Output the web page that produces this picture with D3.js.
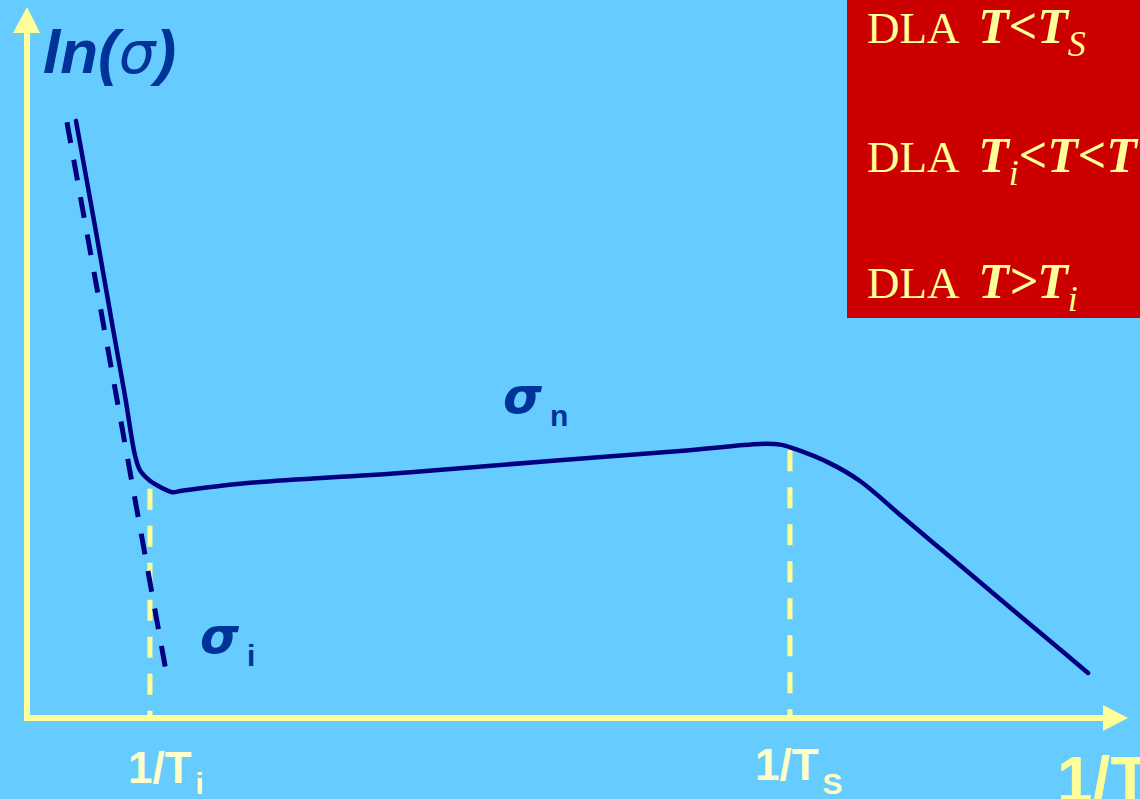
<!DOCTYPE html>
<html>
<head>
<meta charset="utf-8">
<script src="https://cdn.jsdelivr.net/npm/d3@7"></script>
<style>
  html, body { margin: 0; padding: 0; background: #66CCFF; overflow: hidden; }
  svg { display: block; }
</style>
</head>
<body>
<svg id="chart" width="1140" height="799"></svg>
<script>
// Conductivity ln(σ) against inverse temperature 1/T (arbitrary units 0–100)
const condX = [4.45, 6.25, 7.85, 8.93, 9.81, 10.26, 11.17, 12.26, 13.17, 14.08, 19.35, 33.88, 47.5, 59.3, 66.6, 68.4, 69.75, 72.9, 75.66, 79.29, 83.83, 88.37, 92.92, 96.37];
const condY = [84.1, 68.6, 54.5, 45.1, 37.0, 34.9, 33.4, 32.4, 31.8, 32.0, 33.0, 34.5, 36.2, 37.6, 38.6, 38.5, 37.9, 35.9, 33.38, 28.63, 22.7, 16.76, 10.85, 6.34];

// Intrinsic asymptote σ_i (dashed)
const intrX = [3.63, 12.8];
const intrY = [83.9, 5.1];

// Characteristic temperatures on the 1/T axis
const tickValues = [11.17, 69.3];
const tickNames = ["1/T", "1/T"];
const tickSubs = ["i", "S"];
const tickTops = [32.3, 37.7];

// Regime lines: plain prefix, bold-italic part, subscript, bold-italic tail
const legendPlain = ["DLA ", "DLA ", "DLA "];
const legendMain = ["T<T", "T", "T>T"];
const legendSub = ["S", "i", "i"];
const legendTail = ["", "<T<T", ""];

const W = 1140, H = 799;
const svg = d3.select("#chart");
const x = d3.scaleLinear().domain([0, 100]).range([27, 1128]);
const y = d3.scaleLinear().domain([0, 100]).range([718, 8]);

const AXIS = "#FFFF99", NAVY = "#000080", LABEL = "#003399";
const SANS = "Liberation Sans, Arial, sans-serif";
const GREEK = "DejaVu Sans, sans-serif";

svg.append("rect").attr("width", W).attr("height", H).attr("fill", "#66CCFF");

// Yellow guide lines from the curve down to the axis
svg.append("g").selectAll("line").data(tickValues).join("line")
  .attr("x1", d => x(d)).attr("x2", d => x(d))
  .attr("y1", (d, i) => y(tickTops[i])).attr("y2", y(0))
  .attr("stroke", AXIS).attr("stroke-width", 5)
  .attr("stroke-dasharray", "21,16");

// Axes with arrowheads
const axes = svg.append("g");
axes.append("line").attr("x1", x(0)).attr("x2", x(0)).attr("y1", y(0) + 3).attr("y2", y(100) + 24)
  .attr("stroke", AXIS).attr("stroke-width", 6);
axes.append("path")
  .attr("d", `M${x(0)},${y(100) - 1} L${x(0) - 14},${y(100) + 25} L${x(0) + 13},${y(100) + 25} Z`)
  .attr("fill", AXIS);
axes.append("line").attr("x1", x(0) - 3).attr("x2", x(100) - 24).attr("y1", y(0)).attr("y2", y(0))
  .attr("stroke", AXIS).attr("stroke-width", 6);
axes.append("path")
  .attr("d", `M${x(100)},${y(0)} L${x(100) - 25},${y(0) - 13} L${x(100) - 25},${y(0) + 13} Z`)
  .attr("fill", AXIS);

// σ_i asymptote
const straight = d3.line().x(d => x(d[0])).y(d => y(d[1]));
svg.append("path")
  .attr("d", straight(d3.zip(intrX, intrY)))
  .attr("fill", "none").attr("stroke", NAVY).attr("stroke-width", 5)
  .attr("stroke-dasharray", "21,17");

// Measured conductivity curve
const smooth = d3.line().x(d => x(d[0])).y(d => y(d[1])).curve(d3.curveCatmullRom.alpha(0.5));
svg.append("path")
  .attr("d", smooth(d3.zip(condX, condY)))
  .attr("fill", "none").attr("stroke", NAVY).attr("stroke-width", 4.5)
  .attr("stroke-linejoin", "round").attr("stroke-linecap", "round");

// Axis title ln(σ)
const yTitle = svg.append("text").attr("x", 43).attr("y", 73)
  .attr("font-family", SANS).attr("font-size", 62)
  .attr("font-weight", "bold").attr("font-style", "italic").attr("fill", LABEL);
yTitle.append("tspan").text("ln(");
yTitle.append("tspan").attr("font-family", GREEK).attr("font-weight", "normal")
  .attr("font-style", "oblique").attr("font-size", 58).text("σ");
yTitle.append("tspan").text(")");

// Curve labels σ_n and σ_i
function sigmaLabel(px, py, sub) {
  const t = svg.append("text").attr("x", px).attr("y", py)
    .attr("font-weight", "bold").attr("fill", LABEL);
  t.append("tspan").attr("font-family", GREEK).attr("font-style", "oblique")
    .attr("font-size", 50).text("σ");
  t.append("tspan").attr("font-family", SANS).attr("font-size", 30)
    .attr("dx", 8).attr("dy", 13).text(sub);
}
sigmaLabel(503, 413, "n");
sigmaLabel(200, 653, "i");

// Tick labels 1/T_i and 1/T_S
const tickOffsets = [-22, -35];
const tickBase = [783, 780];
tickValues.forEach((v, i) => {
  const t = svg.append("text").attr("x", x(v) + tickOffsets[i]).attr("y", tickBase[i])
    .attr("font-family", SANS).attr("font-weight", "bold").attr("fill", "#FFFFCC");
  t.append("tspan").attr("font-size", 44).text(tickNames[i]);
  t.append("tspan").attr("font-size", 30).attr("dx", 4).attr("dy", 794 - tickBase[i]).text(tickSubs[i]);
});

// Axis title 1/T
svg.append("text").attr("x", 1057).attr("y", 802)
  .attr("font-family", SANS).attr("font-size", 64).attr("font-weight", "bold")
  .attr("fill", AXIS).text("1/T");

// Regime box
svg.append("rect").attr("x", 847).attr("y", 0).attr("width", 293).attr("height", 318)
  .attr("fill", "#CC0000");
const legendBase = [43, 172, 298];
legendPlain.forEach((p, i) => {
  const t = svg.append("text").attr("x", 867).attr("y", legendBase[i])
    .attr("font-family", "Liberation Serif, Times New Roman, serif")
    .attr("font-size", 45).attr("fill", "#FFFF99");
  t.append("tspan").text(p);
  t.append("tspan").attr("dx", 10).attr("font-size", 50)
    .attr("font-weight", "bold").attr("font-style", "italic").text(legendMain[i]);
  t.append("tspan").attr("font-style", "italic").attr("font-size", 36).attr("dy", 13).text(legendSub[i]);
  if (legendTail[i]) {
    t.append("tspan").attr("font-size", 50).attr("font-weight", "bold")
      .attr("font-style", "italic").attr("dy", -13).text(legendTail[i]);
  }
});
</script>
</body>
</html>
